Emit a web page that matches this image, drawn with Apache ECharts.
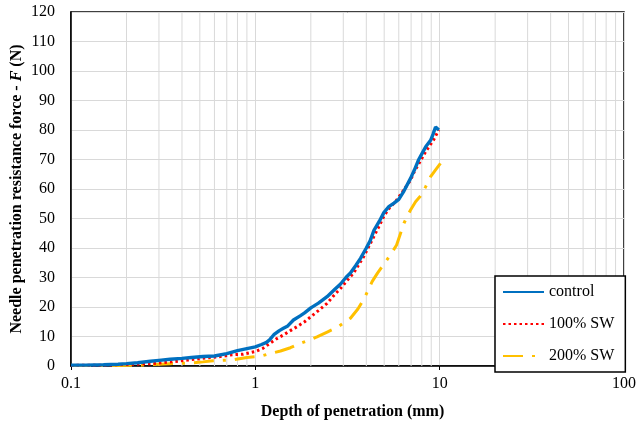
<!DOCTYPE html>
<html>
<head>
<meta charset="utf-8">
<script src="https://cdn.jsdelivr.net/npm/echarts@6/dist/echarts.min.js"></script>
<style>
html,body{margin:0;padding:0;background:#fff;}
#c{width:636px;height:427px;}
</style>
</head>
<body>
<div id="c"></div>
<script>
// ---- data ----
const controlX = [0.1,0.12,0.15,0.18,0.2,0.23,0.27,0.3,0.345,0.4,0.45,0.52,0.6,0.7,0.8,0.9,1.0,1.08,1.15,1.2,1.26,1.35,1.42,1.5,1.61,1.75,1.85,2.0,2.2,2.45,2.7,2.9,3.1,3.28,3.5,3.72,4.0,4.2,4.4,4.7,4.98,5.3,5.65,6.0,6.4,6.95,7.3,7.7,8.1,8.4,8.93,9.2,9.5,9.9];
const controlY = [0.3,0.3,0.4,0.6,0.8,1.1,1.6,1.9,2.3,2.6,2.9,3.2,3.4,4.2,5.2,5.9,6.5,7.3,8.0,9.0,10.6,12.0,12.8,13.6,15.6,17.0,18.0,19.7,21.3,23.5,26.0,27.8,30.0,31.5,34.0,36.5,40.0,42.5,46.0,49.0,52.0,54.0,55.2,56.5,59.3,63.6,66.5,70.0,72.5,74.3,76.5,78.5,81.0,80.0];

const sw100X = [0.1,0.15,0.2,0.27,0.35,0.43,0.52,0.645,0.75,0.86,1.0,1.1,1.2,1.3,1.42,1.55,1.68,1.85,2.0,2.2,2.45,2.7,2.9,3.15,3.42,3.65,3.88,4.3,4.7,5.0,5.4,5.7,6.2,6.95,7.3,7.7,8.4,8.9,9.3,9.6,9.9];
const sw100Y = [0.2,0.3,0.5,0.8,1.4,2.0,2.6,3.2,3.8,4.0,4.9,6.0,7.7,9.2,10.5,12.0,13.3,15.0,16.7,18.8,21.2,24.3,26.3,29.0,31.6,34.5,37.2,42.7,47.5,51.0,54.0,55.3,58.5,63.0,66.0,68.5,72.7,75.0,76.8,78.5,80.0];

const sw200X = [0.1,0.14,0.185,0.246,0.3,0.345,0.44,0.52,0.59,0.76,0.9,1.065,1.2,1.37,1.55,1.76,2.0,2.16,2.47,2.78,3.0,3.28,3.6,3.9,4.3,4.6,4.98,5.42,5.84,6.4,6.95,7.4,7.87,8.4,8.75,8.93,9.5,10.1];
const sw200Y = [0.2,0.2,0.2,0.3,0.6,0.8,1.0,1.4,1.8,2.1,2.9,3.3,4.2,5.1,6.2,7.7,9.0,9.9,11.6,13.1,14.5,16.2,19.3,22.9,28.6,31.5,34.5,37.8,41.0,48.4,52.9,55.7,57.6,60.8,63.0,64.2,66.5,68.7];

const seriesNames = ['control', '100% SW', '200% SW'];
const xMinorGrid = [0.2,0.3,0.4,0.5,0.6,0.7,0.8,0.9,2,3,4,5,6,7,8,9,20,30,40,50,60,70,80,90];
const yRange = [0, 120];

// ---- chart ----
const zip = (xs, ys) => xs.map((x, i) => [x, ys[i]]);
const FONT = "'Liberation Serif', 'Times New Roman', serif";
const chart = echarts.init(document.getElementById('c'), null, {renderer: 'canvas'});

// vertical minor grid lines, drawn through the log axis; '-' breaks the path
const minorGridData = [];
xMinorGrid.forEach(v => {
  minorGridData.push([v, yRange[0]], [v, yRange[1]], ['-', '-']);
});

chart.setOption({
  animation: false,
  backgroundColor: '#ffffff',
  textStyle: {fontFamily: FONT},
  grid: {left: 71, right: 12, top: 12, bottom: 61, show: true, borderColor: '#000', borderWidth: 1.5,
         containLabel: false, outerBoundsMode: 'none'},
  legend: {
    data: seriesNames,
    orient: 'vertical',
    left: 495, top: 276,
    padding: [8, 11, 8, 7],
    itemWidth: 41, itemHeight: 14, itemGap: 16,
    backgroundColor: '#fff',
    borderColor: '#000', borderWidth: 1.5, borderRadius: 0,
    textStyle: {fontFamily: FONT, fontSize: 16, color: '#000'},
    itemStyle: {opacity: 0}
  },
  xAxis: {
    type: 'log', logBase: 10, min: 0.1, max: 100,
    name: 'Depth of penetration (mm)', nameLocation: 'middle', nameGap: 38, nameMoveOverlap: false,
    nameTextStyle: {fontFamily: FONT, fontSize: 16, fontWeight: 'bold', color: '#000', padding: [0, 0, 0, 10]},
    axisLine: {show: true, lineStyle: {color: '#000', width: 1.5}},
    axisTick: {show: true, inside: false, length: 4, lineStyle: {color: '#000'}},
    axisLabel: {fontFamily: FONT, fontSize: 16, color: '#000', margin: 10,
      formatter: v => String(Math.round(v * 1000) / 1000)},
    splitLine: {show: true, lineStyle: {color: '#d9d9d9', width: 1}},
    minorTick: {show: false}, minorSplitLine: {show: false}
  },
  yAxis: {
    type: 'value', min: yRange[0], max: yRange[1], interval: 10,
    name: '{a|Needle penetration resistance force - }{b|F}{a| (N)}',
    nameLocation: 'middle', nameGap: 46, nameRotate: 90, nameMoveOverlap: false,
    nameTextStyle: {
      rich: {
        a: {fontFamily: FONT, fontSize: 16, fontWeight: 'bold', color: '#000'},
        b: {fontFamily: FONT, fontSize: 16, fontWeight: 'bold', fontStyle: 'italic', color: '#000'}
      }
    },
    axisLine: {show: true, lineStyle: {color: '#000', width: 1.5}},
    axisTick: {show: false},
    axisLabel: {fontFamily: FONT, fontSize: 16, color: '#000', margin: 16},
    splitLine: {show: true, lineStyle: {color: '#d9d9d9', width: 1}}
  },
  series: [
    {
      name: 'minor-grid', type: 'line', silent: true, z: 1, symbol: 'none', showSymbol: false,
      connectNulls: false,
      data: minorGridData,
      lineStyle: {color: '#d9d9d9', width: 1, type: 'solid'},
      emphasis: {disabled: true},
      tooltip: {show: false}
    },
    {
      name: seriesNames[2], type: 'line', z: 3, symbol: 'none', showSymbol: false, smooth: false,
      data: zip(sw200X, sw200Y),
      lineStyle: {color: '#FFC000', width: 3, type: [20, 9, 3, 9], cap: 'butt'},
      itemStyle: {color: '#FFC000'}
    },
    {
      name: seriesNames[1], type: 'line', z: 4, symbol: 'none', showSymbol: false,
      data: zip(sw100X, sw100Y),
      lineStyle: {color: '#FF0000', width: 3, type: [2.5, 3], cap: 'butt'},
      itemStyle: {color: '#FF0000'}
    },
    {
      name: seriesNames[0], type: 'line', z: 5, symbol: 'none', showSymbol: false,
      data: zip(controlX, controlY),
      lineStyle: {color: '#0070C0', width: 3.4},
      itemStyle: {color: '#0070C0'}
    }
  ]
});
</script>
</body>
</html>
